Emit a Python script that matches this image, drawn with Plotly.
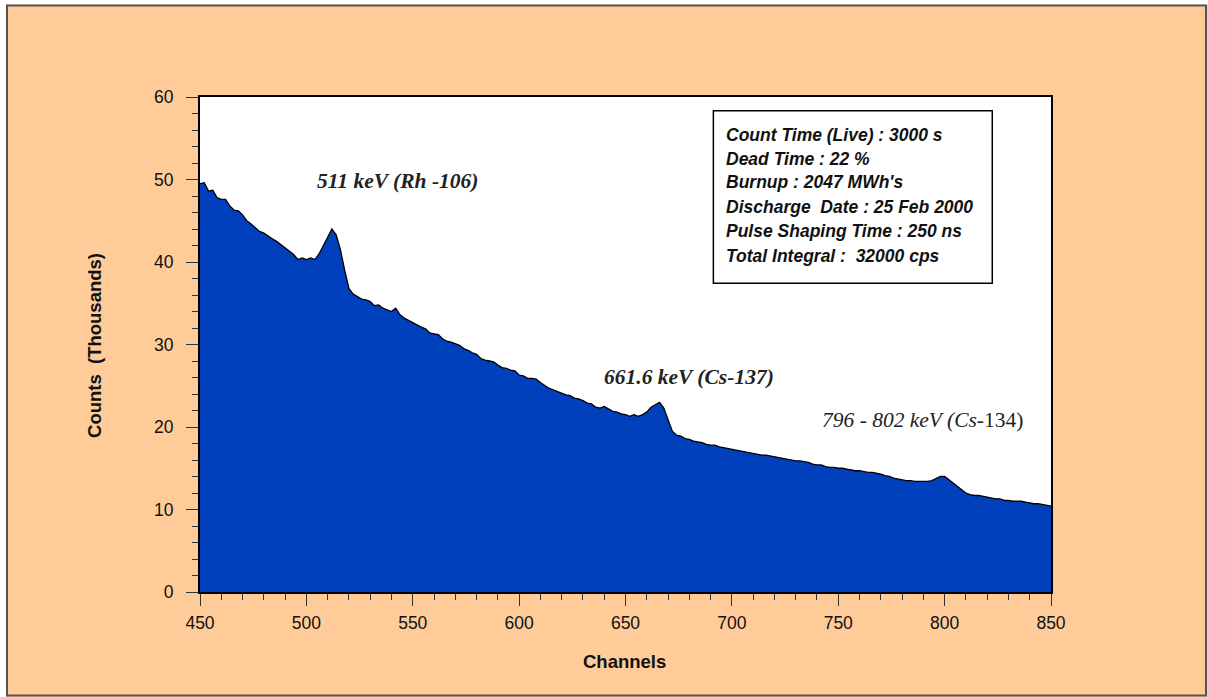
import plotly.graph_objects as go

# Channels (every 2 channels) and counts in thousands
channels = list(range(450, 851, 2))
counts_k = [
    49.5, 49.6, 48.6, 48.7, 47.8, 47.6, 47.6, 46.8, 46.3, 46.2,
    45.7, 45.0, 44.6, 44.2, 43.7, 43.5, 43.1, 42.8, 42.5, 42.1,
    41.8, 41.3, 40.9, 40.3, 40.5, 40.3, 40.5, 40.3, 41.0, 42.0,
    43.0, 44.0, 43.3, 41.5, 39.0, 36.8, 36.1, 35.8, 35.5, 35.4,
    35.2, 34.7, 34.8, 34.4, 34.2, 34.0, 34.4, 33.6, 33.2, 32.9,
    32.6, 32.4, 32.1, 31.9, 31.4, 31.3, 31.2, 30.7, 30.4, 30.3,
    30.1, 29.9, 29.5, 29.3, 29.0, 28.8, 28.3, 28.1, 28.0, 27.9,
    27.5, 27.2, 27.1, 26.9, 26.8, 26.3, 26.2, 25.9, 25.9, 25.8,
    25.4, 25.0, 24.7, 24.5, 24.3, 24.1, 23.9, 23.8, 23.5, 23.4,
    23.2, 22.9, 22.8, 22.4, 22.3, 22.5, 22.2, 21.9, 21.8, 21.6,
    21.5, 21.3, 21.5, 21.3, 21.5, 21.8, 22.4, 22.7, 23.0, 22.3,
    20.8, 19.5, 19.0, 18.9, 18.6, 18.5, 18.3, 18.2, 18.1, 17.9,
    17.8, 17.8, 17.6, 17.5, 17.4, 17.3, 17.2, 17.1, 17.0, 16.9,
    16.8, 16.7, 16.6, 16.6, 16.5, 16.4, 16.3, 16.2, 16.1, 16.0,
    15.9, 15.9, 15.8, 15.7, 15.5, 15.4, 15.4, 15.2, 15.1, 15.1,
    15.0, 15.0, 14.9, 14.8, 14.7, 14.7, 14.6, 14.5, 14.5, 14.4,
    14.3, 14.1, 14.0, 13.8, 13.7, 13.6, 13.5, 13.5, 13.4, 13.4,
    13.4, 13.4, 13.5, 13.8, 14.0, 14.0, 13.6, 13.2, 12.7, 12.3,
    12.0, 11.8, 11.7, 11.7, 11.6, 11.5, 11.4, 11.3, 11.3, 11.1,
    11.1, 11.0, 11.0, 11.0, 10.9, 10.8, 10.7, 10.7, 10.6, 10.5,
    10.4, 10.3,
]

x_ticks = [450, 500, 550, 600, 650, 700, 750, 800, 850]
y_ticks = [0, 10, 20, 30, 40, 50, 60]

info_lines = [
    "Count Time (Live) : 3000 s",
    "Dead Time : 22 %",
    "Burnup : 2047 MWh's",
    "Discharge  Date : 25 Feb 2000",
    "Pulse Shaping Time : 250 ns",
    "Total Integral :  32000 cps",
]
info_y = [55.43, 52.52, 49.64, 46.67, 43.76, 40.73]

peak_labels = [
    ("<b><i>511 keV (Rh -106)</i></b>", 542.9, 49.8),
    ("<b><i>661.6 keV (Cs-137)</i></b>", 679.9, 26.1),
    ("<i>796 - 802 keV (Cs</i>-134)", 789.8, 20.8),
]

fig = go.Figure()
fig.add_trace(go.Scatter(
    x=channels, y=counts_k, mode="lines",
    fill="tozeroy", fillcolor="#0040BC",
    line=dict(color="black", width=1.3),
    hoverinfo="skip", showlegend=False,
))

annotations = []
for txt, xv, yv in peak_labels:
    annotations.append(dict(
        x=xv, y=yv, xref="x", yref="y", text=txt, showarrow=False,
        font=dict(family="Liberation Serif, Times New Roman, serif", size=21.5, color="#222222"),
        xanchor="center", yanchor="middle",
    ))
for line, yv in zip(info_lines, info_y):
    annotations.append(dict(
        x=696.1, y=yv, xref="x", yref="y", text="<b><i>" + line + "</i></b>",
        showarrow=False, xanchor="left", yanchor="middle",
        font=dict(family="Liberation Sans, Arial, sans-serif", size=17.5, color="#111111"),
    ))
annotations.append(dict(
    x=0.4994, y=-0.1414, xref="paper", yref="paper", text="<b>Channels</b>",
    showarrow=False, xanchor="center", yanchor="middle",
    font=dict(family="Liberation Sans, Arial, sans-serif", size=18.5, color="#111111"),
))
annotations.append(dict(
    x=-0.1234, y=0.499, xref="paper", yref="paper", text="<b>Counts  (Thousands)</b>",
    showarrow=False, xanchor="center", yanchor="middle", textangle=-90,
    font=dict(family="Liberation Sans, Arial, sans-serif", size=18.5, color="#111111"),
))

shapes = [
    dict(type="rect", xref="x", yref="y", x0=691.3, x1=822.4, y0=37.42, y1=58.34,
         line=dict(color="black", width=1.5), fillcolor="rgba(0,0,0,0)"),
    # white strips outside the outer frame
    dict(type="rect", xref="paper", yref="paper", x0=-0.2400, x1=-0.2280,
         y0=-0.25, y1=1.25, line=dict(width=0), fillcolor="white"),
    dict(type="rect", xref="paper", yref="paper", x0=-0.25, x1=1.25,
         y0=1.1869, y1=1.25, line=dict(width=0), fillcolor="white"),
    # outer frame
    dict(type="rect", xref="paper", yref="paper", x0=-0.2268, x1=1.1821,
         y0=-0.2091, y1=1.1848, line=dict(color="#555555", width=2),
         fillcolor="rgba(0,0,0,0)"),
]

axis_font = dict(family="Liberation Sans, Arial, sans-serif", size=17.5, color="#111111")

fig.update_layout(
    width=1208, height=697,
    margin=dict(l=200, r=157, t=97, b=105),
    paper_bgcolor="#FFCC99", plot_bgcolor="white",
    annotations=annotations, shapes=shapes,
    showlegend=False,
    xaxis=dict(
        range=[450, 850], tickvals=x_ticks, ticks="outside", ticklen=12,
        tickcolor="#333333", tickwidth=1, showgrid=False, zeroline=False,
        showline=True, linecolor="black", linewidth=1.5, mirror=True,
        tickfont=axis_font, ticklabelstandoff=2,
        minor=dict(dtick=10, ticks="outside", ticklen=6, tickcolor="#333333", showgrid=False),
    ),
    yaxis=dict(
        range=[0, 60], tickvals=y_ticks, ticks="outside", ticklen=12,
        tickcolor="#333333", tickwidth=1, showgrid=False, zeroline=False,
        showline=True, linecolor="black", linewidth=2, mirror=True,
        tickfont=axis_font, ticklabelstandoff=9,
        minor=dict(dtick=2, ticks="outside", ticklen=6, tickcolor="#333333", showgrid=False),
    ),
)

fig.write_html(
    "out.html",
    config={"displayModeBar": False},
    post_script="document.body.style.margin='0';document.body.style.overflow='hidden';",
)
